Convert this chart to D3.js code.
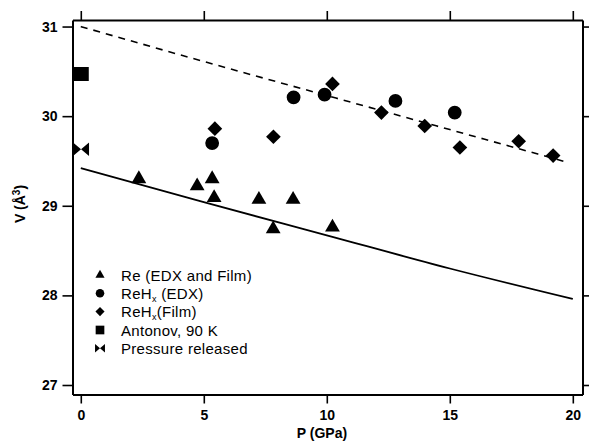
<!DOCTYPE html>
<html>
<head>
<meta charset="utf-8">
<script src="https://cdn.jsdelivr.net/npm/d3@7"></script>
<style>
  body { margin: 0; background: #fff; }
  svg { display: block; }
  text { font-family: "Liberation Sans", Arial, Helvetica, sans-serif; fill: #000; }
</style>
</head>
<body>
<svg id="chart" width="589" height="443"></svg>
<script>
// ---- data ----
const xTicks = [0, 5, 10, 15, 20];
const yTicks = [27, 28, 29, 30, 31];

const reP = [2.36, 4.73, 5.34, 5.42, 7.24, 8.63, 7.82, 10.23];
const reV = [29.30, 29.22, 29.30, 29.09, 29.07, 29.07, 28.74, 28.76];

const edxP = [5.34, 8.65, 9.91, 12.79, 15.20];
const edxV = [29.70, 30.21, 30.24, 30.17, 30.04];

const filmP = [5.45, 7.83, 10.23, 12.22, 13.98, 15.41, 17.80, 19.20];
const filmV = [29.86, 29.77, 30.36, 30.04, 29.89, 29.65, 29.72, 29.56];

const antP = [-0.04, 0.04];
const antV = [30.47, 30.47];

const relP = [0.01];
const relV = [29.63];

// fitted curves
const dashP = [0, 5, 10, 15, 19.85];
const dashV = [31.00, 30.61, 30.23, 29.85, 29.48];

const solidP = [0, 5, 10, 15, 20];
const solidV = [29.42, 29.04, 28.67, 28.30, 27.96];

const legendLabels = ["Re (EDX and Film)", "ReH|x| (EDX)", "ReH|x|(Film)", "Antonov, 90 K", "Pressure released"];

// ---- layout ----
const svg = d3.select("#chart");
const L = 72.5, R = 582.5, T = 20, B = 394.5;

const x = d3.scaleLinear().domain([-0.337, 20.394]).range([L, R]);
const y = d3.scaleLinear().domain([26.894, 31.073]).range([B, T]);

const zip = (a, b) => a.map((v, i) => [v, b[i]]);

svg.append("clipPath").attr("id", "clip")
  .append("rect").attr("x", L).attr("y", T).attr("width", R - L).attr("height", B - T);

// axes
const axFont = g => g.selectAll("text")
  .style("font-family", '"Liberation Sans", Arial, sans-serif')
  .style("font-size", "14px").style("font-weight", "bold");

const gl = svg.append("g").attr("transform", `translate(${L},0)`)
  .call(d3.axisLeft(y).tickValues(yTicks).tickFormat(d3.format("d")).tickSize(10).tickPadding(5).tickSizeOuter(0));
const gb = svg.append("g").attr("transform", `translate(0,${B})`)
  .call(d3.axisBottom(x).tickValues(xTicks).tickFormat(d3.format("d")).tickSize(9).tickPadding(7).tickSizeOuter(0));
const gt = svg.append("g").attr("transform", `translate(0,${T})`)
  .call(d3.axisTop(x).tickValues(xTicks).tickFormat("").tickSize(9).tickSizeOuter(0));
const gr = svg.append("g").attr("transform", `translate(${R},0)`)
  .call(d3.axisRight(y).tickValues(yTicks).tickFormat("").tickSize(7).tickSizeOuter(0));

[gl, gb, gt, gr].forEach(g => {
  g.select(".domain").attr("stroke", "#000").attr("stroke-width", 2);
  g.selectAll(".tick line").attr("stroke", "#000").attr("stroke-width", 1.6);
  axFont(g);
});

// axis titles
svg.append("text")
  .attr("x", 322).attr("y", 438)
  .attr("text-anchor", "middle")
  .style("font-size", "14px").style("font-weight", "bold")
  .text("P (GPa)");

const yl = svg.append("text")
  .attr("transform", "translate(25,204) rotate(-90)")
  .attr("text-anchor", "middle")
  .style("font-size", "14px").style("font-weight", "bold");
yl.append("tspan").text("V (Å");
yl.append("tspan").attr("dy", -5).style("font-size", "10px").text("3");
yl.append("tspan").attr("dy", 5).text(")");

// curves
const line = d3.line().x(d => x(d[0])).y(d => y(d[1])).curve(d3.curveMonotoneX);
const plot = svg.append("g").attr("clip-path", "url(#clip)");

plot.append("path").datum(zip(solidP, solidV))
  .attr("d", line).attr("fill", "none").attr("stroke", "#000").attr("stroke-width", 1.8);
plot.append("path").datum(zip(dashP, dashV))
  .attr("d", line).attr("fill", "none").attr("stroke", "#000").attr("stroke-width", 1.6)
  .attr("stroke-dasharray", "7,6");

// markers
const bowtie = (w, h) => `M${-w},${-h}L0,0L${-w},${h}ZM${w},${-h}L0,0L${w},${h}Z`;
const shapes = {
  tri:  s => d3.symbol(d3.symbolTriangle, 95 * s * s)(),
  circ: s => d3.symbol(d3.symbolCircle, 150 * s * s)(),
  dia:  s => d3.symbol(d3.symbolSquare, 108 * s * s)(),
  sq:   s => d3.symbol(d3.symbolSquare, 196 * s * s)(),
  bow:  s => bowtie(8 * s, 6.8 * s)
};
const rot = {tri: 0, circ: 0, dia: 45, sq: 0, bow: 0};

const series = [
  {k: "tri", p: reP, v: reV},
  {k: "circ", p: edxP, v: edxV},
  {k: "dia", p: filmP, v: filmV},
  {k: "sq", p: antP, v: antV},
  {k: "bow", p: relP, v: relV}
];

series.forEach(s => {
  plot.append("g").selectAll("path").data(zip(s.p, s.v)).join("path")
    .attr("d", shapes[s.k](1))
    .attr("transform", d => `translate(${x(d[0])},${y(d[1])}) rotate(${rot[s.k]})`)
    .attr("fill", "#000");
});

// legend
const lg = svg.append("g");
const rowY = [275, 293.3, 311.6, 330, 348.3];
series.forEach((s, i) => {
  lg.append("path").attr("d", shapes[s.k](0.62))
    .attr("transform", `translate(100,${rowY[i]}) rotate(${rot[s.k]})`)
    .attr("fill", "#000");
  const t = lg.append("text").attr("x", 121).attr("y", rowY[i] + 5.5)
    .style("font-size", "15px").style("letter-spacing", "0.3px");
  const parts = legendLabels[i].split("|");
  parts.forEach((p, j) => {
    if (j % 2 === 1) {
      t.append("tspan").attr("dy", 3).style("font-size", "9px").text(p);
    } else if (j > 0) {
      t.append("tspan").attr("dy", -3).text(p);
    } else {
      t.append("tspan").text(p);
    }
  });
});
</script>
</body>
</html>
